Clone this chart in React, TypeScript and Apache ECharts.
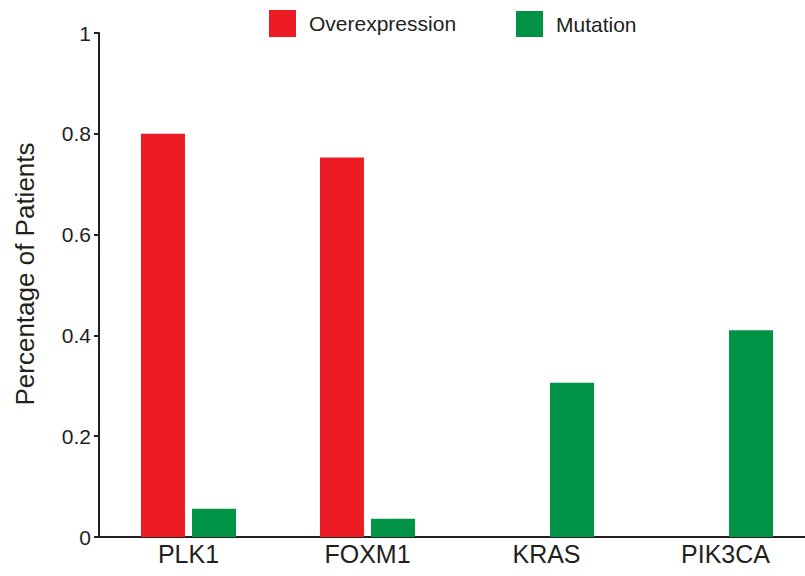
import React, { useEffect, useRef } from "react";
import * as echarts from "echarts";

const categories = ["PLK1", "FOXM1", "KRAS", "PIK3CA"];
const overexpression = [0.8, 0.753, 0, 0];
const mutation = [0.056, 0.036, 0.306, 0.41];
const yTicks = { min: 0, max: 1, interval: 0.2 };
const seriesNames = ["Overexpression", "Mutation"];

const AXIS = "#231f20";
const RED = "#ed1c24";
const GREEN = "#009245";
const FONT = "'Liberation Sans', Arial, sans-serif";

export default function App() {
  const ref = useRef<HTMLDivElement>(null);
  useEffect(() => {
    if (!ref.current) return;
    const chart = echarts.init(ref.current, undefined, { renderer: "svg" });
    chart.setOption({
      animation: false,
      backgroundColor: "#ffffff",
      textStyle: { fontFamily: FONT, color: AXIS },
      legend: [
        {
          data: [seriesNames[0]],
          left: 269,
          top: 10,
          padding: 0,
          itemWidth: 27,
          itemHeight: 27,
          icon: "rect",
          textStyle: { fontSize: 21, color: AXIS, fontFamily: FONT, padding: [0, 0, 2, 8] },
          selectedMode: false,
        },
        {
          data: [seriesNames[1]],
          left: 516,
          top: 11,
          padding: 0,
          itemWidth: 27,
          itemHeight: 26,
          icon: "rect",
          textStyle: { fontSize: 21, color: AXIS, fontFamily: FONT, padding: [3, 0, 0, 8] },
          selectedMode: false,
        },
      ],
      grid: {
        left: 99,
        top: 33,
        width: 716,
        height: 504,
        containLabel: false,
        outerBoundsMode: "none",
      },
      xAxis: {
        type: "category",
        data: categories,
        axisLine: { lineStyle: { color: AXIS, width: 2 } },
        axisTick: { show: false },
        axisLabel: { fontSize: 25, color: AXIS, fontFamily: FONT, margin: 4 },
      },
      yAxis: {
        type: "value",
        min: yTicks.min,
        max: yTicks.max,
        interval: yTicks.interval,
        axisLine: { show: true, lineStyle: { color: AXIS, width: 2 } },
        axisTick: { show: true, length: 5, lineStyle: { color: AXIS, width: 2 } },
        axisLabel: { fontSize: 21, color: AXIS, fontFamily: FONT, margin: 8 },
        splitLine: { show: false },
      },
      graphic: [
        {
          type: "text",
          x: 25,
          y: 274,
          rotation: Math.PI / 2,
          style: {
            text: "Percentage of Patients",
            fontSize: 26,
            fontFamily: FONT,
            fill: AXIS,
            align: "center",
            verticalAlign: "middle",
          },
        },
      ],
      series: [
        {
          name: seriesNames[0],
          type: "bar",
          data: overexpression,
          barWidth: 44,
          barGap: "16%",
          itemStyle: { color: RED },
        },
        {
          name: seriesNames[1],
          type: "bar",
          data: mutation,
          barWidth: 44,
          barGap: "16%",
          itemStyle: { color: GREEN },
        },
      ],
    });
    return () => chart.dispose();
  }, []);
  return (
    <div
      ref={ref}
      style={{ position: "absolute", left: 0, top: 0, width: 805, height: 576 }}
    />
  );
}
